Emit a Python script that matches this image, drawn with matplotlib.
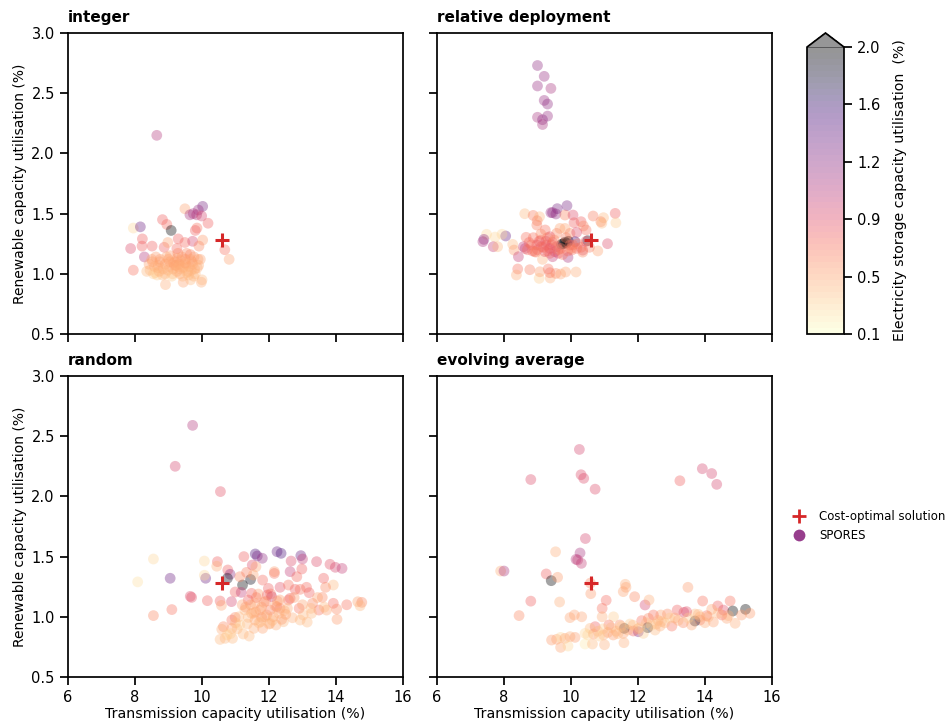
import numpy as np
import matplotlib
matplotlib.use("Agg")
import matplotlib.pyplot as plt
from matplotlib.cm import ScalarMappable
from matplotlib.colors import FuncNorm
from matplotlib.lines import Line2D

panel_titles = ["integer", "relative deployment", "random", "evolving average"]
color_levels = [0.1, 0.5, 0.9, 1.2, 1.6, 2.0]
cost_optimal_x = 10.6
cost_optimal_y = 1.28

integer_x = [8.65,10.02,9.89,9.49,9.64,9.74,9.84,9.99,10.18,8.82,8.95,7.95,8.16,9.08,9.85,9.80,8.22,9.29,9.49,9.72,
             10.02,10.68,10.81,7.87,8.21,8.51,8.87,8.98,9.25,9.91,8.28,7.95,9.95,8.91,9.44,9.98,10.0,9.66,
             8.35,8.42,8.5,8.55,8.62,8.7,8.45,8.52,8.6,8.68,8.75,8.82,8.9,8.98,9.05,9.12,9.2,9.28,9.35,9.42,9.5,9.58,
             9.65,9.72,9.8,9.88,8.58,8.66,8.74,8.84,8.94,9.02,9.1,9.18,9.26,9.34,9.44,9.54,9.62,9.7,9.78,8.72,
             8.9,9.04,9.14,9.22,9.32,9.4,9.52,9.6,9.68,9.76,9.86,9.15,9.25,9.35,9.45,9.55,9.65,9.0,9.3,9.5,9.75,9.9]
integer_y = [2.15,1.56,1.53,1.54,1.49,1.50,1.49,1.48,1.42,1.45,1.41,1.38,1.39,1.36,1.38,1.36,1.29,1.29,1.26,1.27,
             1.28,1.20,1.12,1.21,1.23,1.23,1.22,1.26,1.21,1.23,1.14,1.03,1.12,0.91,0.93,0.93,0.95,0.95,
             1.02,1.08,1.12,1.0,1.14,1.07,1.03,1.1,1.01,1.05,1.12,0.99,1.08,1.03,1.15,1.0,1.1,1.17,1.04,0.98,1.12,1.02,
             1.16,1.08,1.0,1.12,1.06,0.99,1.1,1.04,1.14,1.06,0.98,1.07,1.13,1.0,1.05,1.17,1.06,1.1,1.04,1.02,
             1.0,1.1,1.04,1.07,1.08,1.14,1.08,0.99,1.03,1.14,1.05,1.09,1.02,1.11,1.06,1.01,1.12,1.12,1.06,1.09,0.98,1.07]
integer_c = [1.05,1.3,1.15,0.5,1.1,1.1,1.05,0.95,0.8,0.8,0.75,0.3,1.35,2.0,0.7,0.8,0.8,0.8,0.75,0.95,
             0.55,0.7,0.5,0.9,0.8,0.8,0.8,0.5,0.75,0.6,1.05,0.7,0.5,0.45,0.5,0.45,0.4,0.4,
             0.4,0.5,0.5,0.35,0.55,0.45,0.4,0.5,0.35,0.45,0.55,0.4,0.5,0.45,0.55,0.4,0.5,0.6,0.45,0.4,0.55,0.45,
             0.6,0.5,0.4,0.5,0.45,0.35,0.5,0.45,0.5,0.45,0.35,0.5,0.55,0.45,0.45,0.6,0.45,0.5,0.45,0.45,
             0.4,0.5,0.45,0.5,0.5,0.55,0.45,0.4,0.45,0.55,0.45,0.5,0.45,0.5,0.45,0.4,0.5,0.5,0.45,0.5,0.4,0.45]

relative_x = [9.0,9.2,9.0,9.4,9.2,9.3,9.0,9.3,9.15,9.15,
              9.88,9.59,9.40,9.45,9.55,8.62,8.87,9.06,8.99,8.98,9.82,10.06,10.66,10.97,11.32,11.34,10.89,10.92,10.09,10.30,
              10.37,10.45,9.23,9.10,9.67,9.82,9.57,9.97,10.17,9.37,8.66,8.875,7.48,7.40,7.37,7.73,8.05,7.94,7.68,7.81,
              8.26,8.30,8.43,8.58,8.63,9.72,9.77,9.82,9.87,9.92,10.12,10.5,11.09,10.8,10.35,9.91,9.15,9.45,8.41,8.37,
              8.77,9.05,9.38,8.98,9.12,9.27,8.92,9.22,9.52,9.62,9.37,9.97,10.17,10.02,9.37,9.57,9.07,9.32,9.37,9.55,
              9.69,9.84,10.15,8.75,9.0,9.1,9.25,9.45,9.7,9.85,10.05,10.3,10.45,8.85,9.3,
              8.7,8.82,8.95,9.05,9.18,9.3,9.42,9.5,9.62,9.75,9.9,10.0,10.2,10.35,10.55]
relative_y = [2.73,2.64,2.56,2.54,2.44,2.41,2.3,2.31,2.28,2.24,
              1.566,1.541,1.508,1.508,1.497,1.499,1.485,1.474,1.441,1.405,1.488,1.488,1.48,1.466,1.502,1.424,1.433,1.42,1.424,1.433,
              1.397,1.364,1.364,1.33,1.377,1.377,1.336,1.336,1.344,1.308,1.303,1.30,1.328,1.286,1.267,1.305,1.314,1.328,1.225,1.225,
              1.244,1.197,1.142,1.225,1.21,1.245,1.25,1.262,1.255,1.27,1.267,1.275,1.25,1.19,1.197,1.136,1.12,1.142,1.04,0.99,
              1.034,0.962,0.965,1.239,1.225,1.239,1.184,1.184,1.184,1.17,1.17,1.239,1.211,1.197,1.211,1.225,1.017,1.04,1.009,1.003,
              0.998,1.015,1.015,1.26,1.2,1.28,1.27,1.26,1.21,1.3,1.24,1.22,1.27,1.19,1.3,
              1.2,1.24,1.18,1.27,1.22,1.19,1.24,1.28,1.2,1.16,1.19,1.21,1.25,1.18,1.22]
relative_c = [1.2,1.15,1.15,1.1,1.15,1.2,1.1,1.15,1.2,1.1,
              1.3,1.3,1.15,1.2,1.2,0.4,0.65,0.4,0.6,0.65,0.6,0.9,0.65,0.4,0.8,0.35,0.6,0.4,0.8,0.8,
              0.6,0.7,0.7,0.6,0.5,0.5,0.6,0.6,0.9,0.85,0.7,0.7,0.3,1.2,1.1,0.3,1.4,0.3,1.0,0.4,
              0.4,0.55,1.0,1.0,1.0,2.0,2.0,2.0,2.0,2.0,1.5,1.9,0.9,0.5,0.9,1.1,0.45,1.0,0.7,0.45,
              0.65,0.35,0.45,0.85,0.8,0.85,0.75,0.85,1.0,0.85,0.8,0.7,0.75,0.7,0.85,0.9,0.55,0.7,0.7,0.6,
              0.5,0.5,0.45,0.75,0.8,0.7,0.85,0.8,0.65,0.65,0.75,0.75,0.85,0.8,0.65,
              0.75,0.7,0.6,0.8,0.7,0.75,0.8,0.6,0.65,0.7,0.75,0.6,0.65,0.6,0.65]

random_x = [9.2,9.72,10.55,8.55,8.55,8.08,9.05,9.1,9.65,10.07,10.46,10.44,10.77,10.11,10.07,10.84,10.76,11.21,11.45,9.69,
            10.16,10.54,10.58,10.88,10.99,11.17,11.25,11.59,11.65,11.8,12.24,12.36,12.66,12.95,13.0,13.42,13.82,13.98,14.18,11.50,
            11.61,12.16,12.16,12.63,12.98,12.83,13.63,13.92,13.69,13.59,11.13,11.33,11.53,11.81,
            11.98,12.33,12.58,12.78,13.12,13.2,12.93,11.48,11.68,11.95,12.08,11.38,11.58,12.63,12.58,12.9,13.3,13.49,13.92,14.02,
            14.32,14.65,14.77,14.72,14.03,13.27,13.02,13.14,12.93,12.7,13.72,12.33,12.23,12.03,11.78,11.38,11.28,11.48,10.99,10.89,
            10.64,10.59,10.89,10.54,10.69,10.91,11.23,11.41,11.13,11.55,11.81,12.03,12.21,12.43,12.38,11.73,11.93,12.13,11.58,
            11.85,12.25,12.5,11.2,11.6,12.0,10.75,11.05,
            11.3,11.45,11.62,11.78,11.9,12.05,12.18,12.32,12.46,11.7,11.88,12.1,12.3,12.55,12.75,13.0,13.25,13.45,13.65,11.1,11.35,11.55,11.75,10.85,11.0]
random_y = [2.25,2.59,2.04,1.01,1.48,1.29,1.32,1.06,1.17,1.463,1.458,1.42,1.389,1.32,1.345,1.353,1.32,1.264,1.31,1.161,
            1.134,1.131,1.095,1.126,1.206,1.203,1.5,1.522,1.505,1.486,1.541,1.527,1.463,1.508,1.48,1.458,1.436,1.411,1.402,1.43,
            1.416,1.375,1.36,1.375,1.397,1.333,1.32,1.264,1.245,1.161,1.333,1.369,1.347,1.305,
            1.236,1.245,1.264,1.228,1.245,1.2,1.228,1.195,1.189,1.181,1.167,1.139,1.112,1.153,1.139,1.07,1.112,1.056,1.112,1.064,
            1.1,1.125,1.12,1.092,0.979,1.029,1.015,0.956,0.973,0.992,1.056,1.07,1.084,1.056,0.995,0.995,1.056,1.029,0.995,0.973,
            0.918,0.896,0.904,0.812,0.821,0.821,0.857,0.84,0.932,0.904,0.904,0.945,0.932,0.959,0.979,1.056,1.015,1.001,0.973,
            1.12,1.13,1.02,1.1,1.04,0.94,0.85,0.9,
            1.08,1.1,1.16,1.08,1.13,1.19,1.09,1.14,1.05,0.95,1.0,0.97,1.03,1.07,1.16,1.1,1.07,1.16,1.08,1.0,0.94,1.03,0.96,0.86,0.95]
random_c = [0.95,1.05,0.85,0.6,0.3,0.25,1.35,0.7,0.9,0.3,0.8,0.45,0.8,1.35,0.3,1.2,1.9,2.0,1.9,0.85,
            0.8,0.8,0.5,0.95,0.8,1.0,0.8,1.5,1.3,1.2,1.4,1.5,0.9,1.4,1.0,0.9,0.85,0.95,1.0,0.9,
            0.5,0.55,0.7,1.0,0.8,0.75,0.8,0.4,0.6,0.6,0.6,0.65,0.5,0.75,
            0.8,0.85,0.7,0.8,0.75,0.8,0.7,0.8,0.55,0.8,1.0,0.8,0.5,0.8,0.7,0.7,0.6,0.7,0.75,0.6,
            0.7,0.5,0.6,0.4,0.55,0.4,0.4,0.4,0.4,0.45,0.5,0.6,0.7,0.65,0.6,0.4,0.4,0.45,0.6,0.7,
            0.6,0.45,0.5,0.4,0.4,0.4,0.4,0.4,0.3,0.45,0.5,0.45,0.45,0.4,0.55,0.55,0.55,0.5,0.5,
            0.55,0.55,0.5,0.5,0.5,0.45,0.35,0.4,
            0.55,0.5,0.65,0.5,0.6,0.7,0.5,0.55,0.45,0.4,0.45,0.4,0.45,0.45,0.55,0.5,0.4,0.5,0.4,0.4,0.4,0.45,0.4,0.35,0.4]

evolving_x = [10.25,10.3,10.38,10.72,8.8,13.25,13.92,14.2,14.35,10.43,7.9,8.0,8.45,8.8,
              9.54,10.27,10.15,10.2,10.31,9.26,9.41,9.60,10.58,10.59,9.66,11.05,10.93,10.93,9.97,10.1,10.32,11.27,11.62,11.64,11.56,11.9,12.21,12.33,13.49,13.93,14.38,14.75,
              14.55,14.83,15.21,15.34,15.09,14.9,14.65,14.5,14.25,14.2,14.05,13.85,14.0,13.7,13.7,13.37,13.17,13.45,12.88,12.68,12.46,12.31,12.11,13.01,13.35,13.6,12.66,
              12.29,12.01,11.86,11.59,11.76,11.46,11.13,10.72,10.57,10.42,10.67,10.97,11.26,11.56,12.16,12.51,
              9.42,9.57,9.69,9.82,9.97,10.12,9.69,9.91,10.42,10.64,11.0,11.58,12.7,13.1,13.85,
              10.8,10.95,11.1,11.2,11.35,11.5,11.7,11.85,12.0,12.25,12.4,12.6,12.8,12.95,13.2,13.5,13.8,14.1,14.4,14.7,10.5,10.85,11.4,12.05,12.55]
evolving_y = [2.39,2.18,2.15,2.06,2.14,2.13,2.23,2.19,2.1,1.65,1.38,1.38,1.01,1.13,
              1.54,1.53,1.477,1.472,1.444,1.356,1.30,1.328,1.28,1.192,1.123,1.137,1.07,1.0,0.993,1.015,1.0,1.0,1.27,1.245,1.209,1.167,1.098,1.14,1.245,1.131,1.09,1.131,
              1.056,1.048,1.062,1.029,1.015,0.946,0.987,1.015,0.957,1.062,1.009,0.973,0.951,0.965,1.023,1.037,1.056,1.043,1.023,1.015,1.015,0.987,0.968,0.923,0.951,0.932,0.923,
              0.91,0.876,0.882,0.904,0.94,0.932,0.932,0.918,0.904,0.862,0.857,0.849,0.849,0.862,0.862,0.89,
              0.807,0.813,0.829,0.821,0.835,0.829,0.746,0.757,0.774,0.774,0.768,0.785,0.96,0.99,1.0,
              0.88,0.9,0.87,0.91,0.88,0.92,0.89,0.93,0.9,0.95,0.93,0.97,0.95,0.99,0.97,0.99,1.02,1.0,1.03,1.01,0.85,0.84,0.86,0.91,0.94]
evolving_c = [0.95,0.9,0.9,0.9,0.9,0.8,0.95,0.95,0.95,0.95,0.45,1.1,0.6,0.8,
              0.45,1.1,1.05,1.0,1.0,0.8,2.0,0.55,0.6,0.55,0.45,0.75,0.7,0.45,0.5,0.5,0.5,0.35,0.45,0.5,0.5,0.6,0.95,0.45,0.55,0.7,0.8,0.7,
              0.85,2.0,2.0,0.55,0.55,0.45,0.5,0.7,0.5,0.5,0.7,0.7,0.45,1.9,0.4,0.95,0.8,0.85,0.6,0.5,0.7,0.6,0.7,0.7,0.6,0.5,0.45,
              1.9,1.3,0.8,2.0,0.35,0.6,0.7,0.8,0.4,0.3,0.55,0.45,0.55,0.5,0.35,0.4,
              0.55,0.5,0.3,0.5,0.45,0.55,0.5,0.3,0.2,0.4,0.45,0.45,0.4,0.5,0.45,
              0.4,0.35,0.5,0.4,0.45,0.35,0.45,0.4,0.5,0.4,0.35,0.45,0.4,0.35,0.45,0.35,0.4,0.45,0.4,0.45,0.3,0.35,0.4,0.35,0.4]

panel_data = [(integer_x, integer_y, integer_c), (relative_x, relative_y, relative_c),
              (random_x, random_y, random_c), (evolving_x, evolving_y, evolving_c)]

W, H = 946, 725
fig = plt.figure(figsize=(W / 100, H / 100), dpi=100)
plt.rcParams["font.family"] = "DejaVu Sans"


def px_axes(x0, y0, x1, y1):
    return fig.add_axes([x0 / W, 1 - y1 / H, (x1 - x0) / W, (y1 - y0) / H])


boxes = [(68, 33, 403, 334), (437, 33, 772, 334), (68, 376, 403, 677), (437, 376, 772, 677)]
positions = np.linspace(0, 1, len(color_levels))
norm = FuncNorm((lambda v: np.interp(v, color_levels, positions),
                 lambda p: np.interp(p, positions, color_levels)), vmin=0.1, vmax=2.0)
cmap = plt.get_cmap("magma_r").resampled(48)
for i, (box, title, (xs, ys, cs)) in enumerate(zip(boxes, panel_titles, panel_data)):
    ax = px_axes(*box)
    ax.scatter(xs, ys, c=cs, cmap=cmap, norm=norm, s=60, alpha=0.36, linewidths=0, zorder=2)
    ax.plot([cost_optimal_x], [cost_optimal_y], marker="+", color="#d62728", ms=10.5, mew=2.2,
            ls="none", zorder=3)
    ax.set_xlim(6, 16)
    ax.set_ylim(0.5, 3.0)
    ax.set_xticks([6, 8, 10, 12, 14, 16])
    ax.set_yticks([0.5, 1.0, 1.5, 2.0, 2.5, 3.0])
    ax.tick_params(length=6, width=1.25, labelsize=10.5, pad=3.5,
                   labelbottom=i >= 2, labelleft=i % 2 == 0)
    for s in ax.spines.values():
        s.set_linewidth(1.25)
    ax.set_title(title, loc="left", fontsize=11, fontweight="bold", pad=8)
    if i % 2 == 0:
        ax.set_ylabel("Renewable capacity utilisation (%)", fontsize=10, labelpad=3)
    if i >= 2:
        ax.set_xlabel("Transmission capacity utilisation (%)", fontsize=10.2, labelpad=1.5)

cax = px_axes(807, 33, 844, 334)
cb = fig.colorbar(ScalarMappable(norm=norm, cmap=cmap), cax=cax, extend="max", extendfrac=0.049,
                  ticks=color_levels, alpha=0.41)
cb.ax.set_yticklabels([f"{v:.1f}" for v in color_levels])
cb.ax.tick_params(length=6, width=1.25, labelsize=10.5, pad=3.5)
cb.outline.set_linewidth(1.25)
cb.solids.set_antialiased(False)
cb.set_label("Electricity storage capacity utilisation  (%)", fontsize=10.2)
cb.ax.yaxis.set_label_coords((893 - 807) / 37, (334 - 183) / 301)

handles = [Line2D([], [], marker="+", color="#d62728", ms=10, mew=2, ls="none"),
           Line2D([], [], marker="o", color="#8c2981", alpha=0.9, ms=8.5, mew=0, ls="none")]
fig.legend(handles, ["Cost-optimal solution", "SPORES"], loc="center left",
           bbox_to_anchor=(787 / W, 1 - 526 / H), frameon=False, fontsize=8.5,
           labelspacing=0.5, handletextpad=0.7, borderpad=0, borderaxespad=0)
fig.savefig("out.png", dpi=100)
